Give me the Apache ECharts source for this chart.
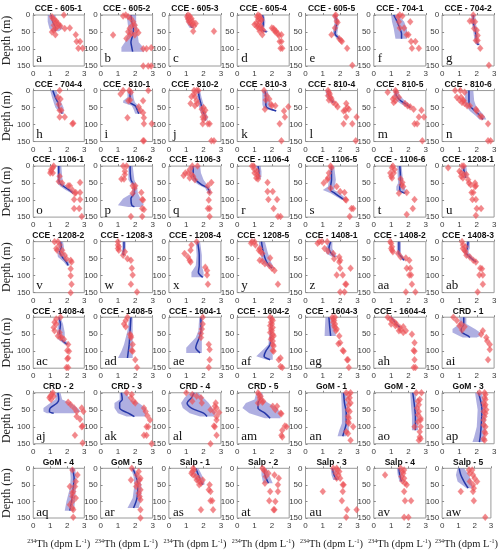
<!DOCTYPE html>
<html><head><meta charset="utf-8">
<script src="https://cdn.jsdelivr.net/npm/echarts@6/dist/echarts.min.js"></script>
<style>html,body{margin:0;padding:0;background:#fff}#c{width:500px;height:551px}</style>
</head><body><div id="c"></div>
<script>
const titles = [
 'CCE - 605-1','CCE - 605-2','CCE - 605-3','CCE - 605-4','CCE - 605-5','CCE - 704-1','CCE - 704-2',
 'CCE - 704-4','CCE - 810-1','CCE - 810-2','CCE - 810-3','CCE - 810-4','CCE - 810-5','CCE - 810-6',
 'CCE - 1106-1','CCE - 1106-2','CCE - 1106-3','CCE - 1106-4','CCE - 1106-5','CCE - 1106-6','CCE - 1208-1',
 'CCE - 1208-2','CCE - 1208-3','CCE - 1208-4','CCE - 1208-5','CCE - 1408-1','CCE - 1408-2','CCE - 1408-3',
 'CCE - 1408-4','CCE - 1408-5','CCE - 1604-1','CCE - 1604-2','CCE - 1604-3','CCE - 1604-4','CRD - 1',
 'CRD - 2','CRD - 3','CRD - 4','CRD - 5','GoM - 1','GoM - 2','GoM - 3',
 'GoM - 4','GoM - 5','Salp - 1','Salp - 2','Salp - 3','Salp - 4','Salp - 5'];
const letters = ['a','b','c','d','e','f','g','h','i','j','k','l','m','n','o','p','q','r','s','t','u','v','w','x','y','z',
 'aa','ab','ac','ad','ae','af','ag','ah','ai','aj','ak','al','am','an','ao','ap','aq','ar','as','at','au','av','aw'];
const xTicks = [0, 1, 2, 3];
const yTicks = [0, 50, 100, 150];
// measured points: [234Th, depth]
const points = [
 [[1.8,0],[1.1,5],[1.15,10],[1.25,15],[1.35,18],[1.3,22],[1.45,25],[1.5,30],[1.2,30],[1.4,35],[1.6,32],[1.3,40],[1.85,40],[2.15,38],[1.2,45],[1.1,50],[1.3,58],[2.5,58],[2.55,78],[2.75,78],[2.65,98],[2.9,98]],
 [[1.3,3],[1.45,0],[1.59,5],[1.74,10],[1.88,20],[1.97,30],[1.84,30],[1.68,39],[2.07,44],[1.59,49],[1.78,54],[1.68,59],[0.72,59],[2.18,52],[1.49,69],[1.97,59],[2.46,99],[2.65,99],[2.92,96],[2.46,150],[2.75,150],[2.92,150]],
 [[1.1,0],[1.2,3],[1.05,5],[1.15,8],[1.3,10],[1.1,12],[1.2,15],[1.35,18],[1.15,20],[1.25,22],[1.4,25],[1.55,25],[1.3,28],[1.45,32],[1.4,48],[2.6,48]],
 [[1.2,0],[1.3,3],[1.15,5],[1.25,8],[1.35,10],[1.2,15],[1.4,15],[1.3,20],[1.1,25],[1.0,28],[1.2,30],[1.35,32],[1.15,35],[1.25,38],[1.4,40],[1.5,45],[1.3,48],[1.45,58],[2.0,38],[2.15,45],[2.2,50],[2.35,55],[2.4,60],[2.55,58],[2.45,78],[2.55,78],[2.5,98],[2.6,98],[2.1,40],[2.25,48]],
 [[1.75,0],[1.7,3],[1.8,18],[1.85,22],[1.7,38],[1.5,58],[1.95,70],[2.05,75],[2.1,78],[2.4,98],[2.7,148]],
 [[1.5,0],[1.65,3],[1.4,5],[1.45,20],[2.1,20],[1.5,38],[1.75,38],[1.9,58],[2.0,58],[2.15,78],[2.4,78],[2.2,98],[2.6,98]],
 [[1.8,0],[1.6,18],[1.75,18],[1.9,20],[1.85,40],[2.0,45],[2.05,60],[1.95,75],[2.05,75],[2.2,98],[2.7,148]],
 [[1.55,0],[1.45,20],[1.6,25],[1.5,40],[1.55,58],[1.65,58],[1.55,78],[1.85,78],[2.3,98],[2.35,96]],
 [[1.65,0],[1.75,5],[1.3,0],[1.15,10],[2.75,0],[1.6,30],[2.45,30],[1.7,28],[2.2,48],[1.55,80],[2.3,58],[2.45,65],[2.5,80],[2.5,98],[2.95,98],[2.45,148],[2.5,148]],
 [[1.45,0],[1.6,0],[1.7,0],[1.5,18],[1.3,18],[1.45,10],[1.6,30],[1.65,38],[1.25,38],[1.5,45],[2.0,50],[1.9,55],[2.1,58],[2.0,65],[1.95,78],[2.1,78],[2.0,85],[2.25,98],[2.35,98],[1.95,98],[2.45,148],[2.6,148]],
 [[1.55,0],[1.7,15],[1.85,25],[1.65,28],[1.95,40],[2.0,45],[1.6,55],[2.2,45],[2.95,48],[2.7,60],[2.75,78],[2.45,98],[2.55,148]],
 [[1.3,0],[1.35,5],[1.4,10],[1.3,15],[1.45,20],[1.5,25],[1.35,28],[1.6,35],[1.75,40],[2.35,38],[1.85,48],[2.4,50],[2.5,55],[2.3,58],[2.2,60],[2.95,78],[2.35,78],[2.2,98],[2.7,98],[2.9,148]],
 [[0.8,5],[1.25,0],[1.3,5],[1.2,20],[1.1,25],[1.25,30],[1.15,35],[1.45,20],[1.8,38],[1.95,45],[2.1,48],[2.3,55],[2.75,58],[2.9,78],[2.6,78],[2.5,98],[2.35,98],[2.8,148]],
 [[0.75,0],[1.05,0],[1.3,5],[0.85,20],[1.1,20],[1.0,28],[1.2,28],[1.15,35],[1.3,38],[1.25,30],[1.45,45],[1.6,45],[1.95,55],[2.0,60],[2.2,75],[2.3,78],[2.65,98],[2.65,148],[2.8,148]],
 [[1.2,0],[1.15,5],[1.05,10],[1.05,15],[1.0,20],[1.15,20],[1.55,30],[1.5,45],[1.7,50],[2.05,58],[2.15,58],[2.75,48],[2.3,70],[2.5,78],[2.45,80],[2.75,78],[2.4,98],[2.75,98],[2.4,125],[2.7,125],[2.85,148]],
 [[1.3,0],[1.5,0],[1.4,15],[1.4,25],[1.2,38],[1.35,38],[1.85,58],[2.0,58],[1.95,65],[1.85,80],[2.35,78],[2.4,98],[2.45,100],[2.4,125],[2.5,128],[1.75,148],[2.4,148]],
 [[1.35,0],[1.65,0],[1.2,10],[0.95,20],[1.1,20],[1.3,25],[0.85,28],[1.4,30],[1.2,35],[1.5,40],[2.45,48],[2.25,58],[2.35,78],[2.3,100],[2.25,125],[2.35,125],[2.35,148]],
 [[0.85,0],[0.95,0],[1.0,10],[1.15,15],[1.0,20],[1.15,25],[1.2,30],[1.1,35],[1.2,38],[1.75,48],[1.75,75],[2.05,75],[1.8,98],[2.3,98],[2.1,125],[2.35,148],[2.5,148]],
 [[1.45,0],[1.5,5],[1.35,20],[1.3,35],[1.05,50],[1.25,40],[1.45,65],[1.8,60],[2.0,75],[2.25,78],[2.3,98],[2.35,100],[2.75,125],[2.65,125],[2.55,148]],
 [[1.1,0],[1.05,5],[1.2,10],[0.95,20],[1.15,20],[1.0,30],[1.05,35],[1.55,38],[1.65,48],[1.6,55],[1.7,60],[1.9,78],[1.45,80],[2.35,98],[2.25,125],[1.9,142]],
 [[0.35,5],[1.15,0],[1.25,0],[1.0,15],[1.1,20],[1.25,25],[1.4,25],[1.1,30],[1.2,35],[1.5,40],[1.55,50],[1.65,55],[1.9,50],[1.95,58],[1.9,60],[1.7,78],[1.8,78],[1.75,98],[1.95,98],[2.25,125],[2.0,125],[1.95,145]],
 [[1.25,0],[1.45,0],[1.55,10],[1.35,20],[1.4,25],[1.7,25],[1.65,35],[1.85,40],[1.95,50],[2.2,55],[2.25,60],[2.2,80],[2.2,100],[2.25,125],[2.2,150]],
 [[1.0,0],[1.0,10],[1.05,15],[1.0,20],[1.05,25],[1.4,30],[1.3,40],[1.55,50],[1.75,55],[1.8,78],[1.85,98],[1.75,125],[2.1,148]],
 [[1.6,0],[1.3,10],[1.25,25],[0.9,35],[1.1,45],[1.2,55],[1.25,60],[2.1,75],[2.2,85],[2.2,98],[2.25,125]],
 [[0.85,0],[1.0,0],[0.8,5],[1.05,10],[1.3,20],[1.25,25],[1.35,30],[1.45,35],[1.9,48],[1.3,55],[1.45,58],[1.6,65],[1.85,70],[2.0,78],[2.15,85],[2.35,125]],
 [[0.8,0],[0.95,0],[0.7,5],[1.25,0],[1.1,20],[1.3,28],[1.6,35],[1.65,50],[1.95,45],[2.0,55],[1.95,60],[2.0,78],[2.6,78],[1.8,98],[2.15,98],[2.35,125],[2.3,125],[2.0,148],[2.25,148]],
 [[0.95,0],[1.0,5],[1.05,15],[1.0,20],[1.05,25],[1.1,30],[1.4,35],[1.55,45],[1.85,48],[2.05,55],[1.9,78],[2.1,78],[2.05,98],[2.15,98],[2.2,125],[1.85,148],[2.4,148]],
 [[1.15,0],[1.2,10],[1.35,15],[1.2,20],[1.3,25],[1.35,30],[1.4,40],[1.6,45],[1.8,55],[1.95,60],[2.2,78],[2.3,80],[2.15,98],[2.35,98],[2.35,125],[2.05,148]],
 [[1.6,0],[1.35,5],[1.25,15],[1.35,20],[1.2,30],[1.25,40],[1.55,45],[1.45,55],[1.6,60],[1.65,58],[1.8,65],[2.05,80],[2.0,98],[2.1,100],[2.0,122],[2.05,120],[2.05,148],[1.95,148]],
 [[1.55,0],[1.45,10],[1.35,20],[1.45,28],[1.7,50],[1.75,55],[1.75,60],[1.85,80],[1.8,98],[1.85,100],[2.0,125],[2.1,148]],
 [[1.95,0],[1.95,20],[1.9,35],[1.85,48],[1.85,60],[2.3,80],[2.35,95],[2.35,125],[2.3,148]],
 [[1.9,0],[2.0,5],[2.05,10],[1.95,15],[2.0,20],[1.9,25],[2.05,30],[1.95,35],[2.0,40],[1.9,45],[2.05,50],[2.1,55],[2.0,60],[1.95,65],[2.05,70],[2.05,80],[2.1,85],[2.05,98],[2.1,100],[2.5,120],[2.4,125],[2.5,145],[2.6,148]],
 [[1.55,0],[1.7,0],[1.6,5],[1.65,10],[1.6,15],[1.7,20],[1.65,25],[1.7,30],[1.8,35],[1.75,40],[1.95,55],[2.0,75],[1.9,78],[2.15,98],[2.2,100],[2.45,125],[2.4,125],[2.5,148]],
 [[0.8,0],[0.95,5],[1.05,10],[1.2,15],[1.3,20],[1.0,20],[1.25,25],[1.5,30],[1.7,28],[1.55,38],[1.45,40],[1.85,40],[1.7,45],[2.2,50],[2.35,75],[2.3,98],[2.35,100],[2.35,125],[2.3,148],[2.4,148]],
 [[0.65,0],[0.85,10],[1.1,20],[1.0,25],[1.3,28],[1.15,38],[2.35,40],[2.25,50],[2.55,60],[2.6,70],[2.75,80],[2.75,95],[2.65,125]],
 [[1.0,10],[1.1,5],[0.95,15],[1.05,20],[1.2,10],[1.15,0],[2.05,28],[2.2,35],[2.4,45],[2.85,45],[2.95,55],[2.55,55],[2.55,70],[2.75,78],[2.9,98],[2.85,100],[2.45,125],[2.9,148]],
 [[1.5,0],[1.8,5],[1.75,15],[1.9,25],[2.0,30],[2.5,45],[2.6,55],[2.7,68],[2.85,80],[2.75,100],[2.65,100],[2.5,125],[2.65,125],[2.95,150]],
 [[1.0,0],[1.35,5],[1.6,10],[1.85,15],[1.35,25],[1.9,30],[2.7,30],[2.65,40],[2.75,45],[2.4,50],[2.6,55],[2.9,58],[2.75,70],[2.75,80],[2.6,98],[2.65,100],[2.75,125],[2.4,150]],
 [[1.2,0],[1.25,5],[1.35,10],[1.3,15],[1.35,20],[1.5,25],[1.2,30],[1.45,28],[2.05,40],[2.3,40],[2.2,50],[2.5,60],[2.55,62],[2.75,98],[2.85,100],[2.6,110],[2.55,125],[2.6,130]],
 [[2.35,0],[2.6,0],[2.5,5],[2.55,15],[2.45,20],[2.6,30],[2.5,35],[2.45,50],[2.55,55],[2.45,70],[2.5,75],[2.45,85],[2.5,90],[2.75,100],[2.35,115],[2.45,120],[2.6,140]],
 [[2.45,0],[2.75,0],[2.65,20],[2.55,25],[2.6,35],[2.5,45],[2.6,55],[2.55,65],[2.7,75],[2.7,80],[2.55,85],[2.35,100],[2.7,100],[2.65,115],[2.65,130],[2.6,140],[2.7,135]],
 [[2.15,0],[2.45,0],[2.5,5],[2.45,15],[2.5,20],[2.4,30],[2.5,35],[2.45,40],[2.55,50],[2.4,55],[2.5,60],[2.45,70],[2.4,80],[2.4,95],[2.5,100],[2.45,115],[2.5,120],[2.4,135],[2.45,140]],
 [[2.3,5],[2.6,20],[2.5,40],[2.45,55],[2.15,55],[2.35,70],[2.3,75],[2.3,85],[2.5,90],[2.3,100],[2.15,110],[2.3,120],[2.35,125],[2.35,148]],
 [[1.8,0],[1.75,35],[2.1,20],[2.2,10],[2.3,30],[2.25,35],[2.1,45],[2.2,50],[2.05,55],[2.3,65],[2.2,75],[2.25,85],[2.3,95],[2.3,125],[2.3,150]],
 [[1.4,0],[1.45,5],[1.35,10],[1.3,15],[1.4,20],[1.55,25],[1.7,30],[1.6,35],[1.95,35],[1.75,40],[1.75,50],[1.85,45],[2.35,50],[2.3,65],[2.4,70],[2.4,98],[2.5,98],[2.55,125],[1.85,125]],
 [[1.45,0],[1.55,5],[1.6,10],[1.8,15],[1.65,25],[2.15,20],[2.4,30],[1.6,45],[2.35,50],[2.35,70],[1.9,70],[1.85,98],[2.2,100],[2.1,125],[2.15,125]],
 [[1.6,0],[1.8,0],[1.85,5],[1.95,10],[1.75,15],[1.9,20],[2.0,30],[1.8,30],[2.15,50],[2.2,50],[1.0,70],[2.15,70],[2.1,98],[2.4,125],[2.95,125],[2.35,148]],
 [[1.55,0],[1.75,5],[1.65,10],[1.7,15],[0.65,20],[1.6,25],[1.75,30],[1.65,38],[1.8,45],[1.9,50],[1.75,70],[1.8,98],[2.15,98],[1.75,148],[2.0,148]],
 [[1.65,5],[1.85,5],[1.7,15],[1.9,20],[2.0,30],[2.15,40],[1.7,40],[1.9,50],[1.95,60],[1.15,70],[1.9,70],[1.95,98],[2.65,148]]
];
// model profiles: [depth, lower, mean, upper]
const profiles = [
 [[0,0.85,1.05,1.3],[10,0.85,1.1,1.35],[20,0.85,1.15,1.45],[30,0.9,1.25,1.65],[40,0.95,1.3,1.75],[48,1.1,1.3,1.5]],
 [[0,1.5,1.75,2.05],[20,1.55,1.8,2.05],[40,1.6,1.9,2.1],[60,1.55,1.85,2.15],[80,1.4,1.75,2.2],[95,1.2,1.8,2.45],[108,1.2,1.85,2.5]],
 [[0,0.95,1.05,1.25],[10,0.98,1.1,1.3],[20,1.02,1.15,1.35],[30,1.1,1.25,1.42],[38,1.2,1.35,1.45]],
 [[0,1.35,1.45,1.55],[10,1.4,1.5,1.6],[20,1.4,1.5,1.62],[30,1.35,1.5,1.6],[40,1.25,1.4,1.55],[47,1.3,1.5,1.75],[50,1.55,1.7,1.8]],
 [[0,1.58,1.7,1.82],[20,1.68,1.8,1.92],[40,1.62,1.75,1.88],[55,1.57,1.7,1.83],[65,1.72,1.85,1.98],[75,1.92,2.05,2.15]],
 [[0,1.0,1.15,1.4],[20,1.05,1.35,1.75],[40,1.15,1.5,1.9],[55,1.2,1.6,1.95],[70,1.25,1.6,1.9]],
 [[0,1.68,1.8,1.92],[20,1.68,1.8,1.92],[40,1.78,1.9,2.02],[60,1.83,1.95,2.07],[80,1.88,2.0,2.12],[88,1.98,2.1,2.2]],
 [[0,1.0,1.15,1.35],[20,1.1,1.3,1.5],[35,1.2,1.45,1.65],[50,1.3,1.5,1.78],[68,1.6,1.7,1.8]],
 [[0,1.55,1.7,1.85],[20,1.55,1.7,1.9],[30,1.3,1.65,1.95],[36,1.3,1.7,2.0],[45,1.8,2.0,2.2],[55,1.9,2.1,2.3],[68,2.0,2.2,2.35]],
 [[0,1.6,1.7,1.8],[20,1.63,1.75,1.88],[40,1.7,1.85,2.0],[60,1.8,1.95,2.1],[80,1.95,2.1,2.25],[88,2.0,2.1,2.2]],
 [[0,1.45,1.6,1.75],[20,1.45,1.65,1.85],[40,1.45,1.65,1.9],[50,1.5,1.7,1.9],[55,1.7,1.95,2.1],[60,2.05,2.25,2.3]],
 [[0,1.15,1.3,1.45],[15,1.2,1.35,1.5],[25,1.3,1.45,1.6],[35,1.45,1.6,1.72]],
 [[0,1.15,1.25,1.4],[15,1.15,1.3,1.5],[30,1.3,1.55,1.8],[40,1.6,1.85,2.05],[50,1.95,2.1,2.2]],
 [[0,1.35,1.55,1.8],[30,1.3,1.55,1.85],[45,1.35,1.6,1.95],[60,1.6,1.9,2.2],[75,1.95,2.2,2.45],[85,2.15,2.35,2.55]],
 [[0,1.4,1.5,1.65],[30,1.4,1.5,1.7],[50,1.4,1.55,1.75],[60,1.6,1.8,2.0],[70,1.9,2.1,2.3],[80,2.25,2.35,2.5]],
 [[0,1.6,1.7,1.85],[40,1.6,1.75,1.95],[60,1.85,1.95,2.1],[80,1.8,1.95,2.15],[95,1.3,1.75,2.3],[115,1.0,1.8,2.5],[120,1.6,1.95,2.3]],
 [[0,1.2,1.4,1.8],[20,1.2,1.4,1.85],[40,1.3,1.55,2.0],[55,1.7,1.9,2.2],[65,2.1,2.25,2.4],[80,2.25,2.35,2.45]],
 [[0,1.05,1.2,1.35],[15,1.1,1.25,1.4],[30,1.1,1.25,1.4],[38,1.05,1.2,1.35]],
 [[0,1.4,1.5,1.65],[40,1.35,1.5,1.75],[60,1.3,1.45,1.7],[70,1.0,1.45,1.65],[80,1.45,1.7,2.0],[100,2.1,2.25,2.4]],
 [[0,1.35,1.5,1.6],[50,1.4,1.55,1.7],[60,1.3,1.5,1.75],[72,1.3,1.5,1.85],[80,1.7,1.8,1.9]],
 [[0,1.12,1.25,1.4],[10,1.12,1.25,1.42],[20,1.15,1.3,1.45],[35,1.2,1.35,1.48]],
 [[0,1.5,1.6,1.75],[15,1.5,1.65,1.8],[30,1.4,1.55,1.8],[45,1.45,1.7,1.9],[60,1.8,1.95,2.1],[70,1.95,2.05,2.15]],
 [[0,1.25,1.35,1.45],[20,1.25,1.35,1.45],[35,1.2,1.3,1.4],[40,1.25,1.35,1.45]],
 [[0,1.55,1.65,1.8],[40,1.6,1.75,1.9],[70,1.55,1.75,1.9],[90,1.3,1.7,2.0],[105,1.3,1.95,2.0]],
 [[0,1.25,1.4,1.6],[30,1.3,1.5,1.75],[60,1.45,1.7,1.95],[78,1.85,2.0,2.15]],
 [[0,1.35,1.45,1.55],[20,1.15,1.35,1.55],[35,1.2,1.5,1.7],[45,1.55,1.7,1.85]],
 [[0,1.33,1.45,1.57],[20,1.33,1.45,1.57],[35,1.33,1.45,1.57],[45,1.48,1.6,1.72],[55,1.63,1.75,1.87]],
 [[0,1.4,1.5,1.6],[20,1.35,1.45,1.6],[30,1.2,1.35,1.5],[45,1.4,1.6,1.75],[60,1.85,1.95,2.05]],
 [[0,1.45,1.5,1.6],[20,1.45,1.6,1.75],[45,1.4,1.55,1.85],[65,1.45,1.65,1.85],[80,1.85,2.0,2.1]],
 [[0,1.65,1.75,1.85],[40,1.55,1.7,1.85],[80,1.35,1.65,1.85],[100,1.2,1.6,1.85],[120,1.0,1.55,1.85]],
 [[0,1.75,1.85,1.95],[40,1.7,1.85,1.95],[60,1.55,1.75,1.9],[90,1.0,1.55,1.9],[105,1.0,1.8,1.9]],
 [[0,1.9,1.95,2.05],[50,1.85,1.95,2.05],[80,1.8,1.9,2.05],[100,1.4,1.65,2.05],[115,1.1,1.55,2.05],[125,1.7,1.9,2.05]],
 [[0,1.15,1.35,1.65],[30,1.12,1.4,1.7],[55,1.1,1.45,1.75]],
 [[0,0.9,1.0,1.1],[10,1.05,1.15,1.25],[20,1.2,1.3,1.4],[30,1.4,1.5,1.6]],
 [[0,1.0,1.25,1.4],[20,1.0,1.25,1.4],[35,0.6,1.1,1.9],[45,0.6,1.15,2.2],[55,1.0,1.5,2.2],[60,1.2,1.6,2.0]],
 [[0,1.3,1.45,1.6],[20,1.3,1.5,1.7],[30,1.0,1.4,2.2],[45,0.6,1.0,2.6],[55,0.6,0.95,2.8],[60,0.8,1.2,2.4]],
 [[0,1.1,1.2,1.5],[20,1.1,1.25,1.7],[30,0.8,1.1,2.2],[45,0.8,1.1,2.6],[60,1.0,1.6,2.6],[70,1.5,1.95,2.6]],
 [[0,1.2,1.45,1.7],[15,0.9,1.3,2.0],[30,0.7,1.05,2.3],[45,0.8,1.3,2.5],[60,1.2,2.0,2.7],[70,1.8,2.2,2.6]],
 [[0,1.1,1.25,1.45],[20,1.0,1.3,1.5],[30,0.5,1.2,1.8],[45,0.3,1.2,2.3],[60,0.7,1.6,2.5],[75,1.6,1.9,2.5]],
 [[0,2.05,2.2,2.35],[30,2.08,2.25,2.42],[60,2.1,2.35,2.5],[90,2.1,2.35,2.5],[110,1.95,2.25,2.5],[128,1.85,2.15,2.35]],
 [[0,2.1,2.25,2.4],[40,2.15,2.35,2.5],[70,2.2,2.4,2.55],[100,2.2,2.4,2.55],[110,2.2,2.4,2.55]],
 [[0,1.9,2.1,2.3],[50,2.05,2.3,2.5],[100,2.0,2.25,2.5],[130,1.85,2.2,2.45],[145,1.75,2.15,2.45]],
 [[0,2.15,2.3,2.45],[30,2.2,2.4,2.55],[60,2.15,2.35,2.5],[100,1.95,2.25,2.45],[128,1.85,2.15,2.4]],
 [[0,1.75,1.85,1.95],[25,1.9,2.05,2.2],[50,1.95,2.15,2.35],[90,1.85,2.1,2.35],[120,1.55,1.9,2.2]],
 [[0,1.4,1.55,1.7],[20,1.45,1.7,1.9],[40,1.6,1.85,2.05],[50,1.8,1.95,2.05]],
 [[0,1.4,1.55,1.7],[20,1.4,1.6,1.85],[45,1.5,1.8,2.05]],
 [[0,1.45,1.55,1.7],[20,1.5,1.65,1.82],[35,1.6,1.8,1.95]],
 [[0,1.33,1.45,1.57],[20,1.38,1.5,1.62],[40,1.48,1.6,1.72]],
 [[0,0.95,1.05,1.35],[20,0.85,1.15,1.65],[40,0.95,1.35,1.8],[60,1.5,1.6,1.9]]
];

const NCOL = 7, W = 52, H = 51;
const colLeft = c => 32.3 + c * 68.3;
const rowTop = r => 15 + r * 75.55;
const grids = [], xAxes = [], yAxes = [], series = [], graphics = [];
const tickLabel = { fontSize: 8, color: '#3a3a3a', fontFamily: 'Liberation Sans, Arial, sans-serif' };
const serif = 'Liberation Serif, Times New Roman, serif';
for (let i = 0; i < titles.length; i++) {
  const r = Math.floor(i / NCOL), c = i % NCOL;
  const L = colLeft(c), T = rowTop(r);
  grids.push({ left: L, top: T, width: W, height: H, show: true, borderColor: '#9a9a9a', borderWidth: 1, backgroundColor: '#fff' });
  const xa = {
    gridIndex: i, type: 'value', min: xTicks[0], max: xTicks[xTicks.length - 1], interval: 1,
    splitLine: { show: false }, axisLine: { show: false },
    axisTick: { show: true, inside: true, length: 2, lineStyle: { color: '#888' } },
    axisLabel: Object.assign({ margin: 4 }, tickLabel)
  };
  if (r === 6) {
    xa.name = '{s|234}{n|Th (dpm L}{s|-1}{n|)}';
    xa.nameLocation = 'middle'; xa.nameGap = 20;
    xa.nameTextStyle = { rich: {
      n: { fontSize: 10.5, fontFamily: serif, color: '#222', lineHeight: 13 },
      s: { fontSize: 6, fontFamily: serif, color: '#222', verticalAlign: 'top', lineHeight: 13 }
    } };
  }
  xAxes.push(xa);
  const ya = {
    gridIndex: i, type: 'value', inverse: true, min: yTicks[0], max: yTicks[yTicks.length - 1], interval: 50,
    splitLine: { show: false }, axisLine: { show: false },
    axisTick: { show: true, inside: true, length: 2, lineStyle: { color: '#888' } },
    axisLabel: Object.assign({ margin: 3 }, tickLabel)
  };
  if (c === 0) {
    ya.name = 'Depth (m)'; ya.nameLocation = 'middle'; ya.nameGap = 19; ya.nameRotate = 90;
    ya.nameTextStyle = { fontSize: 12, fontFamily: serif, color: '#222' };
  }
  yAxes.push(ya);
  const prof = profiles[i];
  series.push({
    type: 'custom', xAxisIndex: i, yAxisIndex: i, data: prof, clip: true, z: 1,
    encode: { x: [1, 3], y: 0 }, silent: true,
    renderItem: (params, api) => {
      if (params.dataIndex !== 0) return null;
      const left = prof.map(p => api.coord([p[1], p[0]]));
      const right = prof.slice().reverse().map(p => api.coord([p[3], p[0]]));
      return { type: 'polygon', shape: { points: left.concat(right) }, style: { fill: 'rgba(110,110,200,0.55)', stroke: null } };
    }
  });
  series.push({
    type: 'line', xAxisIndex: i, yAxisIndex: i, data: prof.map(p => [p[2], p[0]]),
    showSymbol: false, smooth: 0.3, z: 2, silent: true,
    lineStyle: { color: '#2537a8', width: 1.5 }
  });
  series.push({
    type: 'scatter', xAxisIndex: i, yAxisIndex: i, data: points[i], z: 3, silent: true,
    symbol: 'diamond', symbolSize: [6, 7],
    itemStyle: { color: 'rgba(236,80,86,0.85)', borderColor: 'rgba(240,120,120,0.6)', borderWidth: 0.5 }
  });
  graphics.push({ type: 'text', x: L + W / 2, y: T - 6, silent: true,
    style: { text: titles[i], textAlign: 'center', textVerticalAlign: 'middle', font: 'bold 8.5px Liberation Sans, Arial, sans-serif', fill: '#111' } });
  graphics.push({ type: 'text', x: L + 4, y: H + T - 7, silent: true, z: 10,
    style: { text: letters[i], textAlign: 'left', textVerticalAlign: 'middle', font: '13px ' + serif, fill: '#111' } });
}
const chart = echarts.init(document.getElementById('c'), null, { renderer: 'canvas' });
chart.setOption({ animation: false, grid: grids, xAxis: xAxes, yAxis: yAxes, series: series, graphic: graphics });
</script></body></html>
